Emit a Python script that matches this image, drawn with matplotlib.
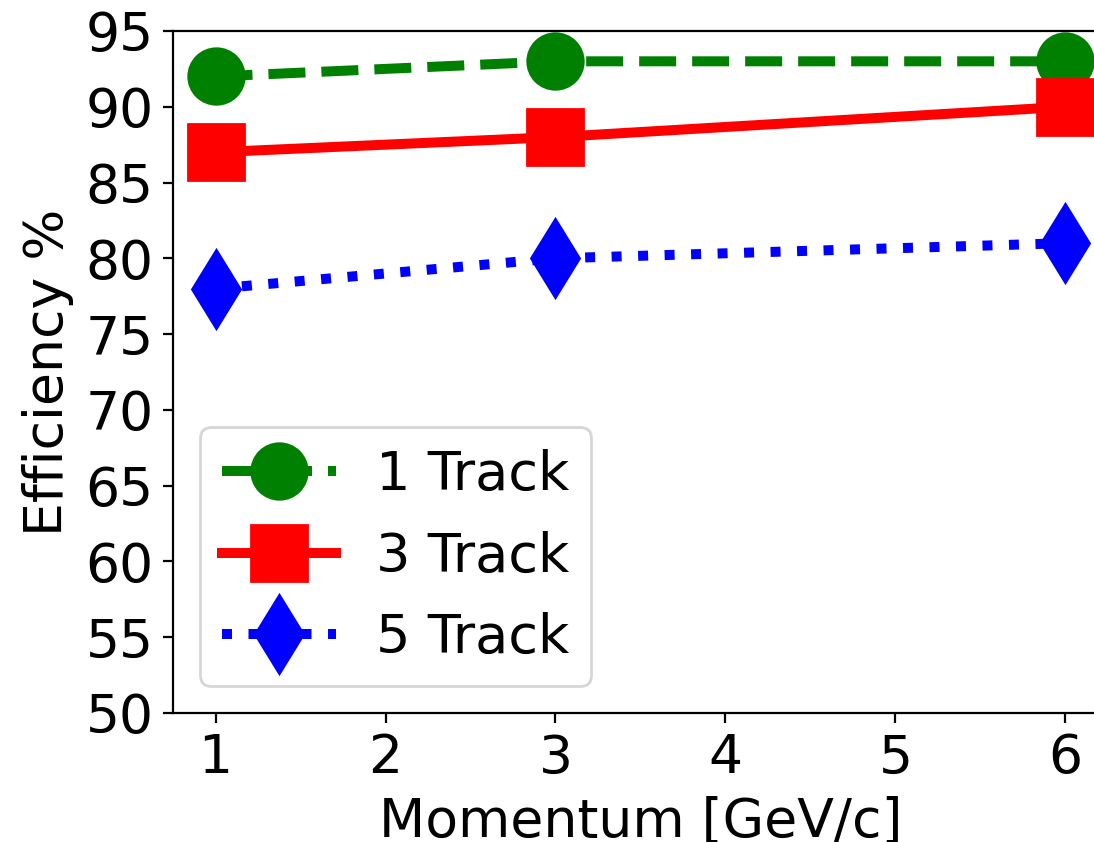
import matplotlib
matplotlib.use('Agg')
import matplotlib.pyplot as plt

momentum = [1, 3, 6]
track1 = [92, 93, 93]
track3 = [87, 88, 90]
track5 = [78, 80, 81]

plt.rcParams['font.size'] = 19.3
fig = plt.figure(figsize=(5.47, 4.21), dpi=200)
# axes run past the right edge of the picture, as in the cropped original
ax = fig.add_axes([173 / 1094, 1 - 713 / 842, 935 / 1094, 682 / 842])

ax.plot(momentum, track1, 'o--', color='green', lw=3.6, ms=20, label='1 Track')
ax.plot(momentum, track3, 's-', color='red', lw=3.6, ms=20, label='3 Track')
ax.plot(momentum, track5, 'd:', color='blue', lw=3.6, ms=20, label='5 Track')

ax.set_xlim(0.75, 6.25)
ax.set_ylim(50, 95)
ax.set_xticks([1, 2, 3, 4, 5, 6])
ax.set_yticks(range(50, 96, 5))
ax.set_xlabel('Momentum [GeV/c]')
ax.set_ylabel('Efficiency %')
ax.legend(loc='lower left', handlelength=2.1, handletextpad=0.75, labelspacing=0.55,
          prop={'size': 19.5})

fig.savefig('out.png', dpi=200)
